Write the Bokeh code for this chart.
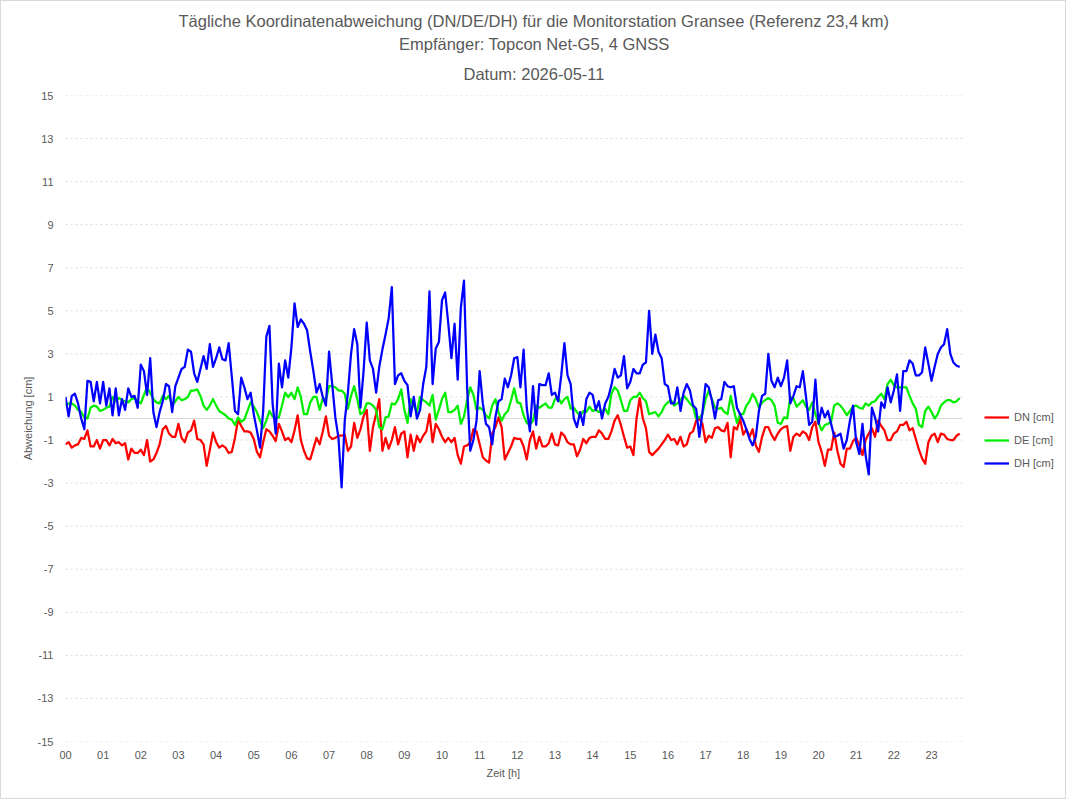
from bokeh.plotting import figure
from bokeh.models import FixedTicker, Legend, LegendItem, Title
from bokeh.embed import file_html
from bokeh.resources import INLINE

# ---------------- data (5-minute samples, cm) ----------------
step_minutes = 5

dn = [
    -1.2, -1.1, -1.35, -1.25, -1.2, -0.9, -0.95, -0.55, -1.3, -1.3,
    -1.0, -1.4, -1.0, -1.0, -1.25, -0.95, -1.15, -1.1, -1.25, -1.15,
    -1.9, -1.4, -1.6, -1.6, -1.45, -1.7, -1.0, -2.0, -1.9, -1.6,
    -1.2, -0.5, -0.35, -0.7, -0.85, -0.85, -0.25, -0.9, -1.1, -0.65,
    -0.55, -0.1, -0.95, -1.0, -1.2, -2.2, -1.45, -0.65, -1.1, -1.35,
    -1.25, -1.35, -1.6, -1.55, -0.9, -0.05, -0.35, -0.6, -0.6, -0.65,
    -0.95, -1.55, -1.8, -1.1, -0.5, -0.6, -0.8, -1.05, -0.25, -0.6,
    -1.0, -0.9, -1.1, -0.55, 0.15, -1.0, -1.5, -1.85, -1.9, -1.4,
    -0.9, -1.2, -0.6, 0.1, -0.8, -0.95, -0.9, -0.8, -0.8, -0.75,
    -1.5, -1.3, -0.2, -0.9, -0.5, 0.1, 0.4, -1.5, -0.4, 0.2,
    0.9, -1.5, -0.9, -1.4, -1.0, -0.4, -1.2, -0.7, -0.6, -1.8,
    -0.75, -1.5, -0.8, -1.1, -0.8, -0.6, 0.2, -1.1, -0.25, -0.5,
    -0.85, -1.1, -0.9, -1.1, -0.9, -1.7, -2.1, -1.3, -1.25, -1.1,
    -0.5, -0.6, -1.2, -1.8, -1.95, -2.05, -0.7, -0.4, 0.05, -0.4,
    -1.9, -1.6, -1.3, -0.9, -0.95, -0.95, -1.3, -1.9, -1.0, -0.6,
    -1.4, -0.85, -1.3, -1.3, -1.15, -0.7, -1.2, -1.25, -0.65, -0.8,
    -1.1, -1.2, -1.2, -1.75, -1.45, -0.95, -1.15, -0.9, -0.85, -0.85,
    -0.55, -0.7, -0.95, -0.95, -0.6, -0.1, 0.15, -0.3, -0.85, -1.35,
    -1.3, -1.7, 0.0, 0.95, 0.0, -0.45, -1.55, -1.7, -1.55, -1.4,
    -1.2, -1.0, -0.75, -1.0, -0.95, -1.2, -0.85, -1.3, -1.2, -0.7,
    -0.6, -0.1, 0.0, -0.25, -1.1, -0.8, -0.9, -0.45, -0.4, -0.55,
    -0.6, -0.2, -1.8, -0.4, -0.5, 0.0, -0.75, -0.5, -0.85, -0.5,
    -1.25, -1.55, -0.85, -0.4, -0.4, -0.75, -1.0, -0.7, -0.5, -0.4,
    -0.35, -1.5, -0.85, -0.7, -0.8, -0.6, -0.7, -1.0, -0.4, -0.15,
    -1.1, -1.55, -2.2, -1.45, -1.45, -0.65, -1.5, -2.1, -2.25, -1.4,
    -1.4, -1.05, -0.9, -1.25, -1.7, -1.0, -0.7, -0.45, -0.85, -0.1,
    -0.35, -0.55, -1.0, -1.0, -0.7, -0.6, -0.3, -0.3, -0.15, -0.55,
    -0.45, -0.95, -1.45, -1.85, -2.1, -1.1, -0.8, -0.7, -1.1, -0.7,
    -0.75, -0.95, -1.0, -1.0, -0.8, -0.7,
]

de = [
    0.6, 0.7, 0.7, 0.6, 0.4, 0.3, 0.05, 0.0, 0.5, 0.6,
    0.55, 0.35, 0.4, 0.5, 0.55, 1.0, 0.8, 0.95, 0.85, 0.8,
    0.75, 0.9, 0.95, 0.8, 0.7, 1.1, 1.45, 1.2, 0.9, 0.75,
    0.7, 1.05, 0.9, 1.05, 0.6, 0.8, 1.0, 0.85, 0.9, 1.0,
    1.3, 1.3, 1.35, 1.05, 0.6, 0.4, 0.6, 0.9, 0.6, 0.35,
    0.25, 0.15, 0.0, -0.05, -0.3, 0.05, -0.15, -0.05, 0.35, 0.75,
    0.55, 0.3, -0.1, -0.45, -0.1, 0.35, 0.1, 0.0, 0.05, 0.6,
    1.2, 1.0, 1.2, 0.9, 1.45, 1.0, 0.2, 0.2, 0.75, 1.0,
    1.0, 0.4, 0.95, 0.85, 1.5, 1.5, 1.45, 1.3, 1.3, 1.15,
    0.45, 1.05, 1.5, 0.9, 0.2, 0.3, 0.7, 0.7, 0.6, 0.4,
    -0.4, -0.5, 0.05, 0.1, 0.7, 0.65, 0.9, 1.35, 0.4, -0.2,
    0.9, 0.6, 0.3, 1.0, 0.85, 0.75, 0.6, 1.1, -0.05, 0.4,
    0.9, 1.2, 0.3, 0.3, 0.4, 0.6, -0.25, 0.1, 0.85, 1.45,
    1.1, 0.4, 0.5, 0.4, 0.15, 0.0, 0.6, 0.9, 0.3, -0.1,
    0.2, 0.35, 0.85, 1.4, 0.75, 0.7, 0.15, -0.2, -0.3, -0.1,
    0.6, 0.5, 0.6, 0.7, 0.5, 0.5, 0.9, 1.0, 0.7, 0.9,
    1.0, 0.45, 0.5, 0.3, 0.1, 0.35, 0.3, 0.55, 0.35, 0.4,
    0.3, 0.35, 0.45, 0.2, 1.15, 1.45, 1.3, 0.85, 0.35, 0.35,
    0.85, 1.0, 1.0, 1.2, 0.95, 0.8, 0.2, 0.25, 0.3, 0.1,
    0.3, 0.6, 0.75, 0.85, 0.6, 0.7, 0.85, 1.05, 0.9, 0.7,
    0.55, 0.0, 0.05, 0.2, 0.9, 1.3, 0.9, 0.5, 0.45, 0.5,
    0.3, 0.2, 1.05, 0.4, -0.2, 0.2, 0.2, 0.6, 0.8, 1.15,
    0.9, 0.5, 0.75, 0.85, 0.95, 0.85, 0.6, -0.2, -0.25, 0.05,
    0.0, 1.0, 0.95, 0.55, 0.7, 0.85, 0.55, 0.4, 0.75, 0.2,
    -0.2, -0.55, -0.3, -0.25, -0.15, 0.6, 0.7, 0.6, 0.4, 0.15,
    0.35, 0.55, 0.6, 0.5, 0.45, 0.7, 0.6, 0.75, 0.8, 1.0,
    1.15, 0.9, 1.6, 1.8, 1.55, 1.45, 1.45, 1.45, 1.45, 1.05,
    0.7, 0.45, -0.3, -0.4, 0.35, 0.55, 0.3, 0.0, 0.2, 0.6,
    0.75, 0.85, 0.85, 0.75, 0.8, 0.95,
]

dh = [
    1.0, 0.1, 1.05, 1.15, 0.7, 0.0, -0.5, 1.75, 1.7, 0.8,
    1.7, 0.7, 1.7, 0.6, 1.4, 0.15, 1.4, 0.15, 0.9, 0.4,
    1.4, 1.0, 1.05, 0.5, 2.5, 2.2, 1.1, 2.8, 0.3, -0.4,
    0.3, 0.8, 1.6, 1.5, 0.3, 1.5, 1.9, 2.3, 2.4, 3.2,
    3.1, 2.1, 1.7, 2.3, 2.9, 2.3, 3.45, 2.4, 2.8, 3.3,
    2.75, 2.7, 3.5, 1.95, 0.35, 0.2, 1.9, 1.45, 0.9, 1.2,
    0.2, -0.55, -1.35, 0.35, 3.8, 4.3, 0.7, -0.7, 2.55, 1.45,
    2.7, 1.9, 3.3, 5.35, 4.25, 4.6, 4.4, 4.1, 3.1, 2.2,
    1.2, 1.6, 1.0, 0.6, 3.1, 1.6, 0.05, -0.9, -3.2, -0.1,
    1.2, 3.0, 4.15, 3.45, 0.5, 2.2, 4.45, 2.7, 2.3, 1.2,
    2.4, 3.2, 3.9, 4.65, 6.1, 1.6, 2.0, 2.1, 1.75, 1.55,
    0.1, 1.0, 0.0, 0.4, 1.6, 2.4, 5.9, 1.6, 3.25, 3.55,
    5.5, 5.85, 4.4, 2.8, 4.4, 1.8, 5.15, 6.4, 1.45, -1.5,
    -1.0, -0.1, 2.2, 0.7, -0.25, -0.4, -1.2, 0.05, 0.8, 0.9,
    1.85, 1.45, 2.0, 2.8, 2.85, 1.45, 3.2, 0.5, -0.6, 1.5,
    -0.3, 1.6, 1.55, 1.55, 2.1, 1.1, 1.2, 0.8, 2.0, 3.5,
    2.0, 1.6, 0.0, -0.4, 0.3, -0.3, 0.9, 1.2, 1.1, 0.4,
    0.8, 0.0, 0.7, 1.0, 1.55, 2.3, 1.9, 2.0, 2.9, 1.4,
    1.7, 2.3, 2.1, 2.1, 2.5, 2.6, 5.0, 3.0, 3.9, 3.1,
    2.8, 1.6, 1.5, 0.7, 0.7, 1.45, 0.35, 1.2, 1.6, 1.3,
    0.6, 0.45, -0.85, 0.3, 1.6, 1.45, 0.85, 0.0, 0.85, 0.9,
    1.7, 1.5, 1.45, 1.5, 0.5, 0.2, -0.1, -0.5, -0.95, -1.25,
    -0.85, 0.35, 1.05, 1.15, 3.0, 1.75, 1.45, 1.9, 1.5, 1.9,
    2.7, 0.7, 1.05, 1.5, 1.45, 2.2, 1.0, -0.3, -0.15, 1.8,
    -0.25, 0.5, 0.05, 0.35, -0.25, -0.85, -0.8, -0.7, -1.4, -1.0,
    -0.1, 0.6, -1.1, -1.65, -0.25, -1.7, -2.6, 0.5, 0.05, -0.6,
    0.75, 0.5, 1.45, 0.75, 1.3, 2.05, 0.35, 2.2, 2.2, 2.7,
    2.55, 2.0, 2.0, 2.15, 3.3, 2.55, 1.75, 2.4, 3.0, 3.3,
    3.45, 4.15, 3.0, 2.6, 2.45, 2.4,
]

series_names = ["DN [cm]", "DE [cm]", "DH [cm]"]
series_colors = ["#ff0000", "#00ee00", "#0000ff"]
hour_labels = [f"{h:02d}" for h in range(24)]
y_ticks = list(range(-15, 16, 2))

title_lines = [
    "Tägliche Koordinatenabweichung (DN/DE/DH) für die Monitorstation Gransee (Referenz 23,4\u202fkm)",
    "Empfänger: Topcon Net-G5, 4 GNSS",
    "Datum: 2026-05-11",
]

# ---------------- figure ----------------
FONT = "Liberation Sans"
GREY = "#595959"
PX_PER_HOUR = 37.652          # horizontal scale of the reference plot area
FRAME_W = 1066 - 64           # frame spans to the right edge (legend sits inside)
X_END = FRAME_W / PX_PER_HOUR
AREA_END = 23.82              # right end of the reference plot area (h)

t = [i * step_minutes / 60.0 for i in range(len(dn))]

p = figure(
    width=1066, height=799,
    x_range=(0, X_END), y_range=(-15, 15),
    min_border_left=64, min_border_right=0,
    min_border_top=94, min_border_bottom=59,
    output_backend="svg", toolbar_location=None,
    background_fill_color="white", border_fill_color="white",
    title=title_lines[0],
)
p.styles = {"border": "1px solid #d9d9d9"}


def style_title(ttl, standoff, offset, size="16.5px", valign="bottom"):
    ttl.align = "left"
    ttl.offset = offset
    ttl.vertical_align = valign
    ttl.text_font = FONT
    ttl.text_font_size = size
    ttl.text_font_style = "normal"
    ttl.text_color = GREY
    ttl.standoff = standoff


# left offsets chosen so that each line is centred on the page (x = 534)
style_title(p.title, 3, 113)
t2 = Title(text=title_lines[2])
style_title(t2, 21, 398, valign="top")
p.add_layout(t2, "above")
t1 = Title(text=title_lines[1])
style_title(t1, 3, 333.5)
p.add_layout(t1, "above")

p.outline_line_color = None
p.xgrid.visible = False
p.ygrid.visible = False

# horizontal dotted grid lines limited to the plot area, solid zero line
p.segment(x0=[0] * len(y_ticks), x1=[AREA_END] * len(y_ticks), y0=y_ticks, y1=y_ticks,
          line_color="#d9d9d9", line_width=1, line_dash="2 3")
p.segment(x0=[0], x1=[AREA_END], y0=[0], y1=[0], line_color="#d9d9d9", line_width=1)

p.yaxis.ticker = FixedTicker(ticks=y_ticks)
p.yaxis.major_label_overrides = {v: str(v) for v in y_ticks}
p.xaxis.ticker = FixedTicker(ticks=list(range(24)))
p.xaxis.major_label_overrides = {i: lab for i, lab in enumerate(hour_labels)}

for ax in (p.xaxis[0], p.yaxis[0]):
    ax.axis_line_color = None
    ax.major_tick_line_color = None
    ax.minor_tick_line_color = None
    ax.major_label_text_font = FONT
    ax.major_label_text_font_size = "11px"
    ax.major_label_text_color = GREY
    ax.axis_label_text_font = FONT
    ax.axis_label_text_font_size = "11px"
    ax.axis_label_text_font_style = "normal"
    ax.axis_label_text_color = GREY

p.yaxis.axis_label = "Abweichung [cm]"
p.yaxis.major_label_standoff = 6
p.yaxis.axis_label_standoff = 1
p.xaxis.major_label_standoff = 3

xlab = Title(text="Zeit [h]")
style_title(xlab, 6, 421, size="11px")
p.add_layout(xlab, "below")

renderers = []
for vals, col in zip([dn, de, dh], series_colors):
    r = p.line(t, vals, line_color=col, line_width=2.25, line_join="round")
    renderers.append(r)

legend = Legend(
    items=[LegendItem(label=n, renderers=[r]) for n, r in zip(series_names, renderers)],
    location=(919, 268),
    border_line_color=None, background_fill_alpha=0,
    label_text_font=FONT, label_text_font_size="11px", label_text_color=GREY,
    glyph_width=25, glyph_height=20, label_standoff=5, padding=10, spacing=3,
)
p.add_layout(legend)

open("out.html", "w").write(file_html(p, INLINE))
